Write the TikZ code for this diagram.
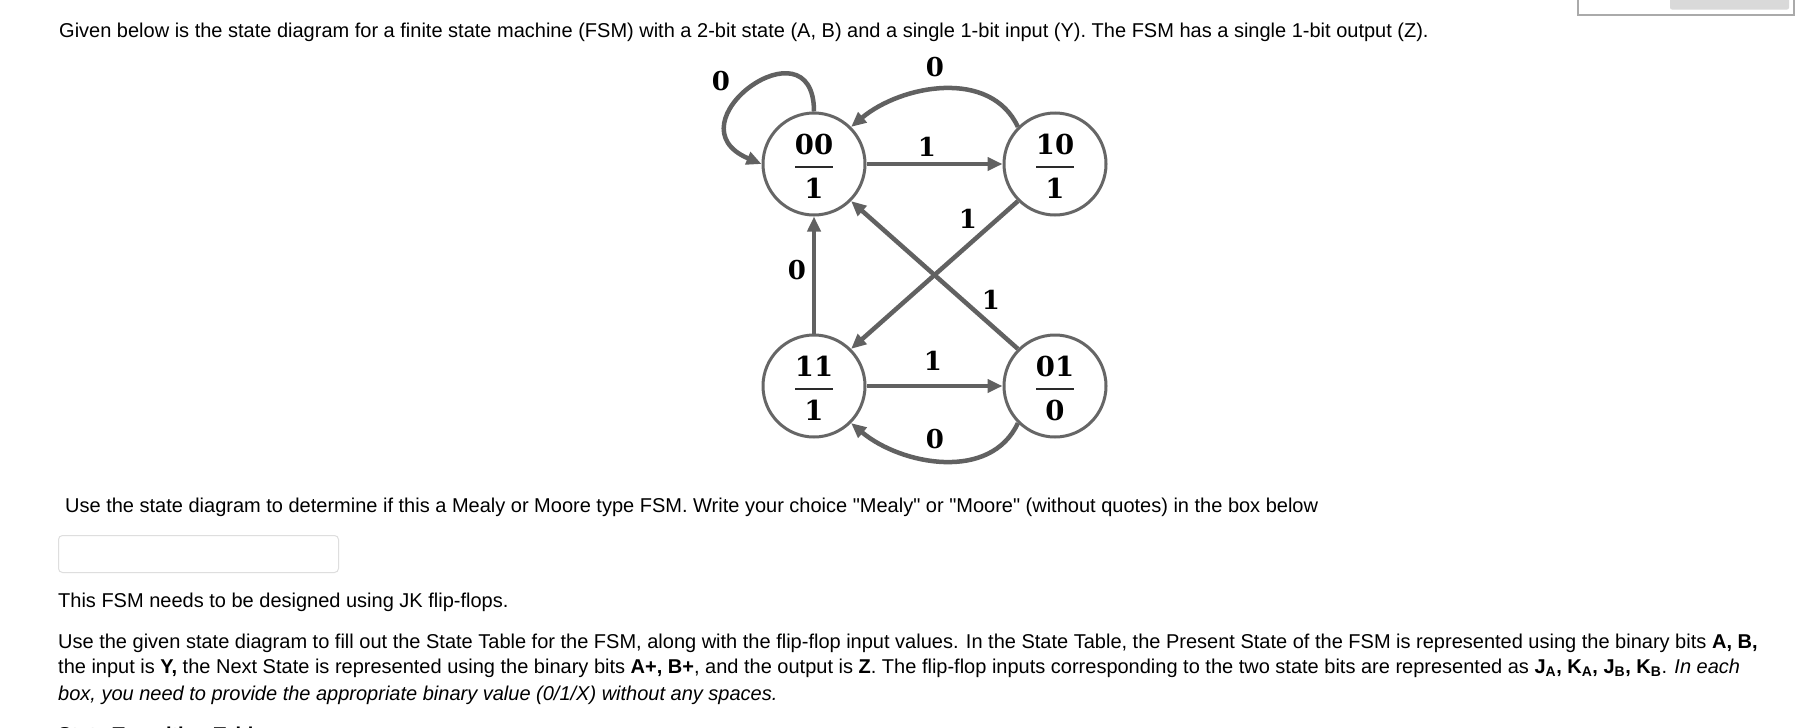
\documentclass[tikz,border=0pt]{standalone}
\usepackage{fontspec}
\setmainfont{Liberation Sans}
\newfontfamily\qfont{Liberation Sans}
\newfontfamily\digfont{DejaVu Serif}
\usetikzlibrary{arrows.meta,calc}
\definecolor{edc}{HTML}{616161}
\definecolor{stc}{HTML}{666666}
\definecolor{barc}{HTML}{2A2A2A}
\definecolor{boxc}{HTML}{DEDEDE}
\definecolor{trc}{HTML}{AAAAAA}
\definecolor{trf}{HTML}{D9D9D9}
\newcommand{\dq}{{\qfont"}}
\begin{document}
\begin{tikzpicture}[x=1pt,y=1pt,
  state/.style={circle,draw=stc,line width=3pt,minimum size=102pt,inner sep=0pt,fill=white},
  edge/.style={draw=edc,line width=4.5pt,-{Triangle[length=15pt,width=13pt]}},
  dig/.style={font=\digfont\bfseries\fontsize{27.5}{28}\selectfont,inner sep=0pt,text=black},
  lab/.style={font=\digfont\bfseries\fontsize{26}{26}\selectfont,inner sep=0pt,text=black},
  barline/.style={draw=barc,line width=2pt},
  txt/.style={anchor=base west,inner sep=0pt,font=\fontsize{20}{24}\selectfont,text=black}]
\useasboundingbox (0,0) rectangle (1799,-728);
\clip (0,0) rectangle (1799,-728);
\fill[white] (0,0) rectangle (1799,-728);

% top-right widget
\draw[draw=trc,line width=1.5pt] (1578,5) rectangle (1794,-15);
\fill[trf,rounded corners=2pt] (1670,5) rectangle (1789,-9.5);

% text
\node[txt] (p1) at (59,-37) {Given below is the state diagram for a finite state machine (FSM) with a 2-bit state (A, B) and a single 1-bit input (Y). The FSM has a single 1-bit output (Z).};
\node[txt] (p2) at (65,-512) {Use the state diagram to determine if this a Mealy or Moore type FSM. Write your choice \dq Mealy\dq{} or \dq Moore\dq{} (without quotes) in the box below};
\node[draw=boxc,line width=1pt,rounded corners=4pt,minimum width=280pt,minimum height=37pt,anchor=north west,inner sep=0pt] (inbox) at (58,-535) {};
\node[txt] (p3) at (58,-607) {This FSM needs to be designed using JK flip-flops.};
\node[txt] (p4) at (58,-648) {Use the given state diagram to fill out the State Table for the FSM, along with the flip-flop input values. In the State Table, the Present State of the FSM is represented using the binary bits \textbf{A, B,}};
\node[txt] (p5) at (58,-673) {the input is \textbf{Y,} the Next State is represented using the binary bits \textbf{A+, B+}, and the output is \textbf{Z}. The flip-flop inputs corresponding to the two state bits are represented as \textbf{J\textsubscript{A}, K\textsubscript{A}, J\textsubscript{B}, K\textsubscript{B}}. \textit{In each}};
\node[txt] (p6) at (58,-700) {\itshape box, you need to provide the appropriate binary value (0/1/X) without any spaces.};
\node[txt] (p7) at (58,-741) {\bfseries State Transition Table};

% states
\node[state] (n00) at (814,-164) {};
\node[state] (n10) at (1055,-164) {};
\node[state] (n11) at (814,-386) {};
\node[state] (n01) at (1055,-386) {};

\foreach \n/\a/\b in {n00/00/1,n10/10/1,n11/11/1,n01/01/0}{
  \node[dig] (\n a) at ($(\n)+(0,20)$) {\a};
  \node[dig] (\n b) at ($(\n)+(0,-24)$) {\b};
  \draw[barline] ($(\n)+(-19,-3)$) -- ($(\n)+(19,-3)$);
}

% edges
\draw[edge] (n00.90) .. controls +(0,95) and +(-95,40) .. (n00.180);
\draw[edge] (n10.135) to[out=115,in=40] (n00.45);
\draw[edge] (n00) -- (n10);
\draw[edge] (n10.-135) -- (n11.45);
\draw[edge] (n01.135) -- (n00.-45);
\draw[edge] (n11) -- (n00);
\draw[edge] (n11) -- (n01);
\draw[edge] (n01.-135) to[out=-115,in=-40] (n11.-45);

% labels
\node[lab] (l1) at (721,-81) {0};
\node[lab] (l2) at (935,-67) {0};
\node[lab] (l3) at (927,-147) {1};
\node[lab] (l4) at (968,-219) {1};
\node[lab] (l5) at (797,-270) {0};
\node[lab] (l6) at (991,-300) {1};
\node[lab] (l7) at (933,-361) {1};
\node[lab] (l8) at (935,-439) {0};
\end{tikzpicture}
\end{document}
